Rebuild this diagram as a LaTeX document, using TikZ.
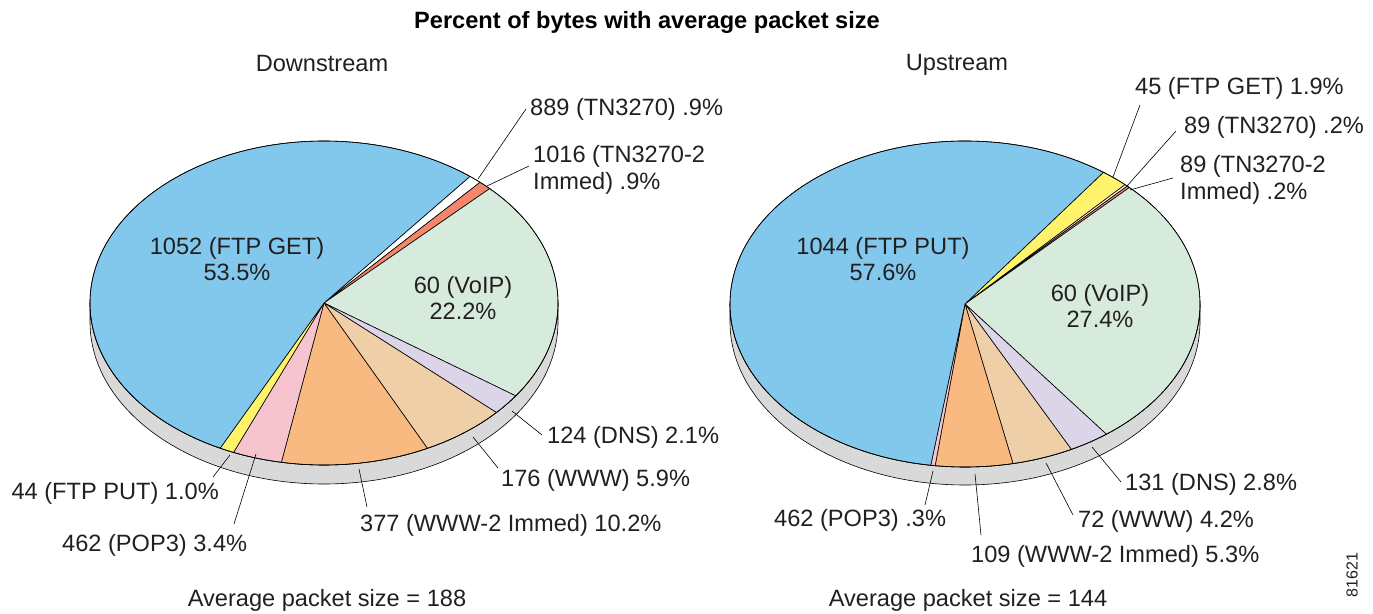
\documentclass[tikz,border=0pt]{standalone}
\usepackage{fontspec}
\setmainfont{Liberation Sans}
\definecolor{cBlue}{HTML}{82C8EC}
\definecolor{cGreen}{HTML}{D7EBDD}
\definecolor{cLav}{HTML}{DCD5EA}
\definecolor{cTan}{HTML}{EFCFA8}
\definecolor{cOrange}{HTML}{F9BA82}
\definecolor{cPink}{HTML}{F5C4CE}
\definecolor{cYellow}{HTML}{FFF36B}
\definecolor{cSalmon}{HTML}{F4866C}
\definecolor{cRim}{HTML}{D9D9D9}
\definecolor{cText}{HTML}{231F20}
\newcommand\pslice[3]{\filldraw[slice,fill=#3] (0,0) -- (#1:\rx pt and \ry pt) arc[start angle=#1,end angle=#2,x radius=\rx pt,y radius=\ry pt] -- cycle;}
\newcommand\prim{\filldraw[rim] (-\rx pt,0) arc[start angle=180,end angle=360,x radius=\rx pt,y radius=\ry pt] -- ++(0,-\dep pt) arc[start angle=360,end angle=180,x radius=\rx pt,y radius=\ry pt] -- cycle;}
\newcommand\poutline{\draw[slice] (0,0) ellipse[x radius=\rx pt,y radius=\ry pt];}
\begin{document}
\begin{tikzpicture}[x=1pt,y=1pt,
  slice/.style={draw=black,line width=0.6pt,line join=round},
  rim/.style={draw=black,line width=0.6pt,fill=cRim},
  lbl/.style={inner sep=0pt,font=\fontsize{23.6}{26.5}\selectfont,text=cText},
  ttl/.style={inner sep=0pt,font=\fontsize{23.6}{26.5}\selectfont\bfseries,text=black},
  leader/.style={draw=black,line width=0.6pt}]
\useasboundingbox (0,0) rectangle (1373,613);
% ---------- left pie ----------
\begin{scope}[shift={(324,310)}]
\def\rx{234}\def\ry{162}\def\dep{19}
\prim
\pslice{51.4}{48.16}{white}
\pslice{48.16}{44.92}{cSalmon}
\pslice{44.92}{-34.98}{cGreen}
\pslice{-34.98}{-42.54}{cLav}
\pslice{-42.54}{-63.78}{cTan}
\pslice{-63.78}{-100.5}{cOrange}
\pslice{-100.5}{-112.74}{cPink}
\pslice{-112.74}{-116.34}{cYellow}
\pslice{-116.34}{-308.6}{cBlue}
\poutline
\end{scope}
% ---------- right pie ----------
\begin{scope}[shift={(965,309)}]
\def\rx{235}\def\ry{163}\def\dep{18}
\prim
\pslice{53.9}{47.06}{cYellow}
\pslice{47.06}{46.34}{white}
\pslice{46.34}{45.62}{cSalmon}
\pslice{45.62}{-53.02}{cGreen}
\pslice{-53.02}{-63.1}{cLav}
\pslice{-63.1}{-78.22}{cTan}
\pslice{-78.22}{-97.3}{cOrange}
\pslice{-97.3}{-98.38}{cPink}
\pslice{-98.38}{-306.1}{cBlue}
\poutline
\end{scope}
% ---------- titles ----------
\node[ttl] (title) at (647,591) {Percent of bytes with average packet size};
\node[lbl] (down) at (322,549) {Downstream};
\node[lbl] (up) at (957,548) {Upstream};
\node[lbl] (avgL) at (327,13) {Average packet size = 188};
\node[lbl] (avgR) at (968,13) {Average packet size = 144};
\node[inner sep=0pt,font=\fontsize{16}{18}\selectfont,text=cText,rotate=90] (fig) at (1352,38) {81621};
% ---------- left labels ----------
\node[lbl,align=center] (lGet) at (237,354) {1052 (FTP GET)\\53.5\%};
\node[lbl,align=center] (lVoip) at (463,315) {60 (VoIP)\\22.2\%};
\node[lbl,anchor=west] (lTn) at (530,504) {889 (TN3270) .9\%};
\node[lbl,anchor=west,align=left] (lTn2) at (533,443) {1016 (TN3270-2\\Immed) .9\%};
\node[lbl,anchor=west] (lDns) at (547,176) {124 (DNS) 2.1\%};
\node[lbl,anchor=west] (lWww) at (501,133) {176 (WWW) 5.9\%};
\node[lbl,anchor=west] (lWww2) at (360,88) {377 (WWW-2 Immed) 10.2\%};
\node[lbl,anchor=east] (lPut) at (219,120) {44 (FTP PUT) 1.0\%};
\node[lbl,anchor=west] (lPop) at (62,68) {462 (POP3) 3.4\%};
\coordinate (eTn) at (478,434);   \coordinate (xTn) at (526,504);
\coordinate (eTn2) at (487,427);  \coordinate (xTn2) at (529,447);
\coordinate (eDns) at (512,202);  \coordinate (xDns) at (542,178);
\coordinate (eWww) at (473,176);  \coordinate (xWww) at (498,145);
\coordinate (eWww2) at (359,144); \coordinate (xWww2) at (367,106);
\coordinate (ePut) at (230,158);  \coordinate (xPut) at (213,136);
\coordinate (ePop) at (256,159);  \coordinate (xPop) at (234,89);
\foreach \n in {Tn,Tn2,Dns,Www,Www2,Put,Pop} \draw[leader] (e\n) -- (x\n);
% ---------- right labels ----------
\node[lbl,align=center] (rPut) at (883,354) {1044 (FTP PUT)\\57.6\%};
\node[lbl,align=center] (rVoip) at (1100,307) {60 (VoIP)\\27.4\%};
\node[lbl,anchor=west] (rGet) at (1135,525) {45 (FTP GET) 1.9\%};
\node[lbl,anchor=west] (rTn) at (1184,486) {89 (TN3270) .2\%};
\node[lbl,anchor=west,align=left] (rTn2) at (1180,433) {89 (TN3270-2\\Immed) .2\%};
\node[lbl,anchor=west] (rDns) at (1125,129) {131 (DNS) 2.8\%};
\node[lbl,anchor=west] (rWww) at (1078,92) {72 (WWW) 4.2\%};
\node[lbl,anchor=west] (rWww2) at (971,57) {109 (WWW-2 Immed) 5.3\%};
\node[lbl,anchor=west] (rPop) at (774,93) {462 (POP3) .3\%};
\coordinate (fGet) at (1113,436);  \coordinate (yGet) at (1140,508);
\coordinate (fTn) at (1127,427);   \coordinate (yTn) at (1176,482);
\coordinate (fTn2) at (1130,423);  \coordinate (yTn2) at (1173,435);
\coordinate (fDns) at (1092,166);  \coordinate (yDns) at (1121,131);
\coordinate (fWww) at (1046,150);  \coordinate (yWww) at (1073,98);
\coordinate (fWww2) at (975,139);  \coordinate (yWww2) at (981,78);
\coordinate (fPop) at (933,142);   \coordinate (yPop) at (925,108);
\foreach \n in {Get,Tn,Tn2,Dns,Www,Www2,Pop} \draw[leader] (f\n) -- (y\n);
\end{tikzpicture}
\end{document}
